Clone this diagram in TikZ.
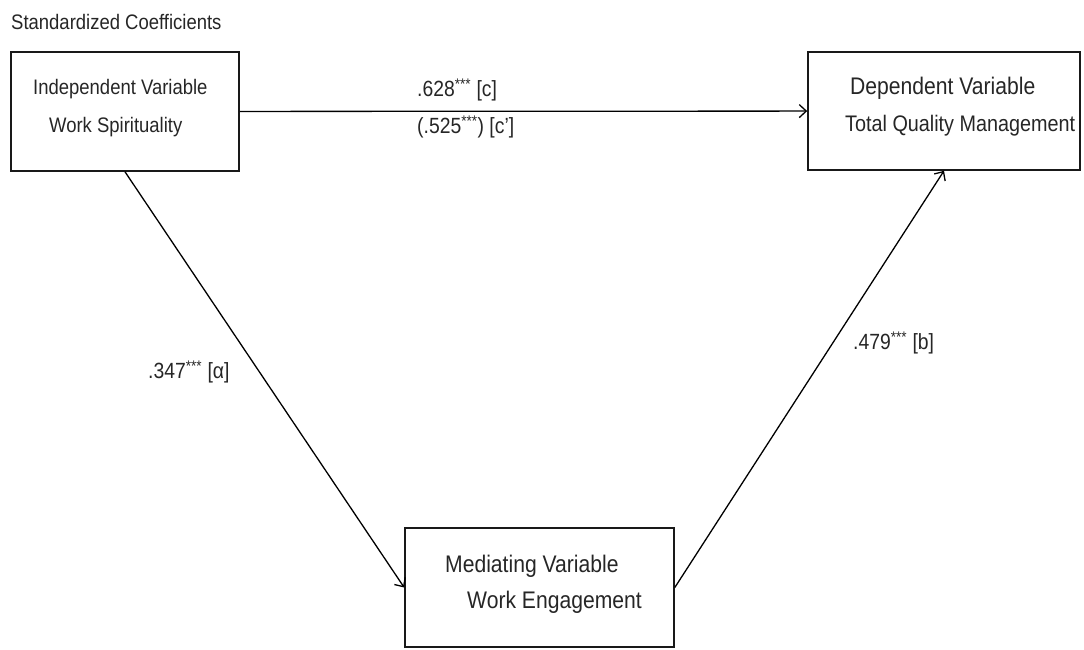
\documentclass[tikz,border=0pt]{standalone}
\usepackage{fontspec}
\setmainfont[FakeStretch=0.88]{Liberation Sans}
\usepackage{tikz}
\usetikzlibrary{arrows.meta,shapes}
\tikzstyle{var box}=[rectangle,draw=black!90,line width=1.6pt,inner sep=0pt]
\tikzstyle{txt}=[anchor=west,inner sep=0pt,text=black!85,font=\fontsize{21}{23}\selectfont]
\tikzstyle{big txt}=[txt,font=\fontsize{24}{26}\selectfont]
\tikzstyle{coef}=[txt,font=\fontsize{22}{24}\selectfont]
\tikzstyle{edge} = [draw,line width=1.3pt,-{Straight Barb[length=7pt,width=13pt]}]

\begin{document}
\begin{tikzpicture}[x=1pt,y=-1pt]
        \useasboundingbox (0,0) rectangle (1084,650);
        %\tikzset{edge/.style = {->,>=latex'}}
        \node[txt] (title) at (11,22) {Standardized Coefficients};
        \node[var box,minimum width=228pt,minimum height=119pt] (iv) at (125,111.5) {};
        \node[var box,minimum width=272pt,minimum height=118pt] (dv) at (944,111) {};
        \node[var box,minimum width=269pt,minimum height=119pt] (mv) at (539.5,587.5) {};
        \node[txt] (iv1) at (33,89) {Independent Variable};
        \node[txt] (iv2) at (49,127) {Work Spirituality};
        \node[big txt] (dv1) at (850,88) {Dependent Variable};
        \node[big txt,font=\fontsize{22.5}{24}\selectfont] (dv2) at (845,126) {Total Quality Management};
        \node[big txt] (mv1) at (445,566) {Mediating Variable};
        \node[big txt] (mv2) at (467,602) {Work Engagement};
        \node[coef] (c) at (417,90) {.628\textsuperscript{***} [c]};
        \node[coef] (cp) at (417,127) {(.525\textsuperscript{***}) [c']};
        \node[coef] (a) at (148,372) {.347\textsuperscript{***} [α]};
        \node[coef] (b) at (853,343) {.479\textsuperscript{***} [b]};
        \draw[edge] (iv) to (dv);
        \draw[edge] (iv.south) to (mv.west);
        \draw[edge] (mv.east) to (dv.south);
      \end{tikzpicture}
\end{document}
